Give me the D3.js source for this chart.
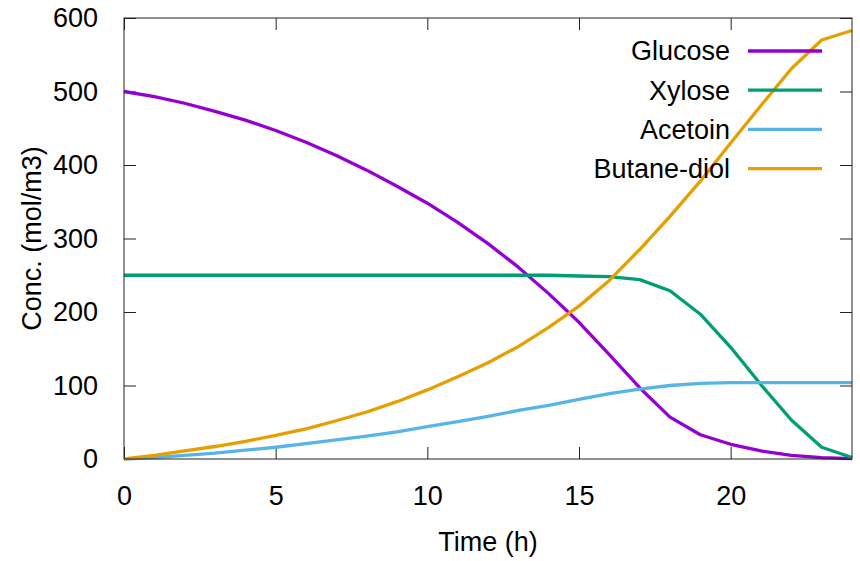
<!DOCTYPE html>
<html>
<head>
<meta charset="utf-8">
<script src="https://cdn.jsdelivr.net/npm/d3@7"></script>
<style>
  body { margin: 0; background: #fff; }
  text { font-family: "Liberation Sans", Arial, sans-serif; fill: #000; }
</style>
</head>
<body>
<script>
// time points (h)
const hours = d3.range(0, 25);

// concentrations (mol/m3) at each hour
const glucose = [500, 493, 484, 473, 461, 447, 431, 413, 393, 371, 348, 322, 293, 261, 225, 186, 142, 97, 57, 33, 20, 11, 5, 2, 0.5];
const xylose = [250, 250, 250, 250, 250, 250, 250, 250, 250, 250, 250, 250, 250, 250, 250, 249, 248, 244, 229, 197, 152, 101, 53, 16, 2];
const acetoin = [0, 2, 5, 8, 12, 16, 21, 26, 31, 37, 44, 51, 58, 66, 73, 81, 89, 95, 100, 103, 104, 104, 104, 104, 104];
const butanediol = [0, 5, 11, 17, 24, 32, 41, 52, 64, 78, 94, 112, 131, 153, 179, 208, 243, 285, 330, 378, 430, 481, 531, 570, 583];

const seriesNames = ["Glucose", "Xylose", "Acetoin", "Butane-diol"];
const seriesValues = [glucose, xylose, acetoin, butanediol];
const seriesColors = ["#9400d3", "#009e73", "#56b4e9", "#e69f00"];

const xTicks = [0, 5, 10, 15, 20];
const yTicks = [0, 100, 200, 300, 400, 500, 600];

const width = 860, height = 561;
const margin = { top: 18, right: 8, bottom: 102, left: 124 };
const fontSize = 27;
const tickLen = 12;

const svg = d3.select("body").append("svg")
  .attr("width", width)
  .attr("height", height);

const x = d3.scaleLinear().domain([0, 24]).range([margin.left, width - margin.right]);
const y = d3.scaleLinear().domain([0, 600]).range([height - margin.bottom, margin.top]);

// axes with inward ticks, mirrored on top and right
const axisColor = "#222";
function styleAxis(g) {
  g.select(".domain").remove();
  g.selectAll(".tick line").attr("stroke", axisColor).attr("stroke-width", 1);
  g.selectAll(".tick text").attr("font-size", fontSize).attr("font-family", "Liberation Sans, Arial, sans-serif");
}

svg.append("g")
  .attr("transform", `translate(0,${y(0)})`)
  .call(d3.axisBottom(x).tickValues(xTicks).tickSize(-tickLen).tickPadding(tickLen + 15))
  .call(styleAxis);

svg.append("g")
  .attr("transform", `translate(0,${y(600)})`)
  .call(d3.axisTop(x).tickValues(xTicks).tickSize(-tickLen).tickFormat(""))
  .call(styleAxis);

svg.append("g")
  .attr("transform", `translate(${x(0)},0)`)
  .call(d3.axisLeft(y).tickValues(yTicks).tickSize(-tickLen).tickPadding(tickLen + 14))
  .call(styleAxis);

svg.append("g")
  .attr("transform", `translate(${x(24)},0)`)
  .call(d3.axisRight(y).tickValues(yTicks).tickSize(-tickLen).tickFormat(""))
  .call(styleAxis);

// curves
const line = d3.line()
  .x((d, i) => x(hours[i]))
  .y(d => y(d));

const plot = svg.append("g");
seriesValues.forEach((vals, k) => {
  plot.append("path")
    .datum(vals)
    .attr("fill", "none")
    .attr("stroke", seriesColors[k])
    .attr("stroke-width", 3.3)
    .attr("stroke-linejoin", "round")
    .attr("d", line);
});

// plot border
svg.append("rect")
  .attr("x", x(0))
  .attr("y", y(600))
  .attr("width", x(24) - x(0))
  .attr("height", y(0) - y(600))
  .attr("fill", "none")
  .attr("stroke", axisColor)
  .attr("stroke-width", 1);

// legend
const legend = svg.append("g");
seriesNames.forEach((name, k) => {
  const ly = 51 + k * 39.2;
  legend.append("text")
    .attr("x", 730)
    .attr("y", ly)
    .attr("dy", "0.35em")
    .attr("text-anchor", "end")
    .attr("font-size", fontSize)
    .text(name);
  legend.append("line")
    .attr("x1", 748).attr("x2", 822)
    .attr("y1", ly).attr("y2", ly)
    .attr("stroke", seriesColors[k])
    .attr("stroke-width", 3.3);
});

// axis titles
svg.append("text")
  .attr("x", (x(0) + x(24)) / 2)
  .attr("y", 551)
  .attr("text-anchor", "middle")
  .attr("font-size", fontSize)
  .text("Time (h)");

svg.append("text")
  .attr("transform", `translate(41,${(y(0) + y(600)) / 2}) rotate(-90)`)
  .attr("text-anchor", "middle")
  .attr("font-size", fontSize)
  .text("Conc. (mol/m3)");
</script>
</body>
</html>
